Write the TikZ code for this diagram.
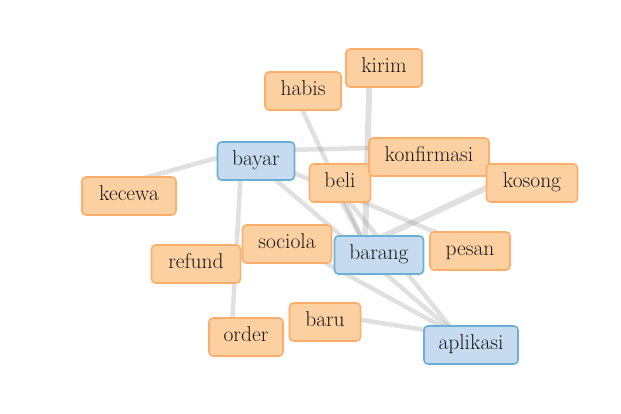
\documentclass[tikz,border=0pt]{standalone}
\usepackage{fontspec}
\usepackage{tikz}
\usetikzlibrary{backgrounds}

\definecolor{oranyeisi}{HTML}{FDD0A2}
\definecolor{oranyegaris}{HTML}{FDAE6B}
\definecolor{biruisi}{HTML}{C6DBEF}
\definecolor{birugaris}{HTML}{6BAED6}

\tikzset{
    kata/.style={draw=oranyegaris, fill=oranyeisi, line width=1.6pt, rounded corners=4pt,
        minimum height=38pt, inner ysep=0pt, text height=14pt, text depth=4.5pt,
        text=black!90, font=\fontsize{21.5}{25}\selectfont},
    pokok/.style={kata, draw=birugaris, fill=biruisi},
    garis/.style={line width=4.5pt, draw=black!60, opacity=0.2}
}

\begin{document}
\begin{tikzpicture}[x=1pt,y=-1pt]
    \useasboundingbox (0,0) rectangle (621,414);

    % kata biasa
    \foreach \n/\x/\y/\w in {kirim/384/68/76, habis/303/91/76, beli/340/183/61,
        konfirmasi/429/157/120, kosong/532/183/91, kecewa/129/196/94,
        sociola/287/244/89, refund/196/264/89, pesan/470/251/80,
        baru/325/322/71, order/246/337/74}
        \node[kata, minimum width=\w pt] (\n) at (\x,\y) {\n};

    % kata pokok
    \foreach \n/\x/\y/\w in {bayar/256/161/77, barang/379/255/89, aplikasi/471/345/94}
        \node[pokok, minimum width=\w pt] (\n) at (\x,\y) {\n};

    % hubungan antar kata
    \begin{pgfonlayer}{background}
    \begin{scope}[transform canvas={shift={(-14pt,10pt)}}]
        \foreach \a/\b in {kecewa/bayar, bayar/konfirmasi, bayar/order, bayar/aplikasi,
            bayar/pesan, habis/barang, beli/barang, beli/aplikasi,
            sociola/aplikasi, baru/aplikasi}
            \draw[garis] (\a.center) -- (\b.center);
        \foreach \a/\b in {kirim/barang, kosong/barang}
            \draw[garis, line width=6pt] (\a.center) -- (\b.center);
    \end{scope}
    \end{pgfonlayer}
\end{tikzpicture}
\end{document}
